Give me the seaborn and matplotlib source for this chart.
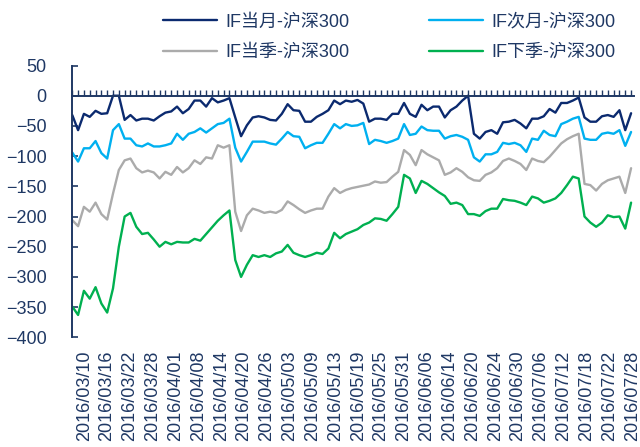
import matplotlib
matplotlib.use("Agg")
import matplotlib.pyplot as plt
import numpy as np
import pandas as pd
import seaborn as sns

dates = [
    "2016/03/10", "2016/03/11", "2016/03/14", "2016/03/15", "2016/03/16", "2016/03/17", "2016/03/18",
    "2016/03/21", "2016/03/22", "2016/03/23", "2016/03/24", "2016/03/25", "2016/03/28", "2016/03/29",
    "2016/03/30", "2016/03/31", "2016/04/01", "2016/04/05", "2016/04/06", "2016/04/07", "2016/04/08",
    "2016/04/11", "2016/04/12", "2016/04/13", "2016/04/14", "2016/04/15", "2016/04/18", "2016/04/19",
    "2016/04/20", "2016/04/21", "2016/04/22", "2016/04/25", "2016/04/26", "2016/04/27", "2016/04/28",
    "2016/04/29", "2016/05/03", "2016/05/04", "2016/05/05", "2016/05/06", "2016/05/09", "2016/05/10",
    "2016/05/11", "2016/05/12", "2016/05/13", "2016/05/16", "2016/05/17", "2016/05/18", "2016/05/19",
    "2016/05/20", "2016/05/23", "2016/05/24", "2016/05/25", "2016/05/26", "2016/05/27", "2016/05/30",
    "2016/05/31", "2016/06/01", "2016/06/02", "2016/06/03", "2016/06/06", "2016/06/07", "2016/06/08",
    "2016/06/13", "2016/06/14", "2016/06/15", "2016/06/16", "2016/06/17", "2016/06/20", "2016/06/21",
    "2016/06/22", "2016/06/23", "2016/06/24", "2016/06/27", "2016/06/28", "2016/06/29", "2016/06/30",
    "2016/07/01", "2016/07/04", "2016/07/05", "2016/07/06", "2016/07/07", "2016/07/08", "2016/07/11",
    "2016/07/12", "2016/07/13", "2016/07/14", "2016/07/15", "2016/07/18", "2016/07/19", "2016/07/20",
    "2016/07/21", "2016/07/22", "2016/07/25", "2016/07/26", "2016/07/27", "2016/07/28",
]

if_month = [
    -32, -57, -30, -35, -25, -30, -29, 0, 0, -40, -32, -41, -38, -38, -41, -34, -28,
    -26, -18, -29, -22, -8, -8, -18, -4, -11, -8, -4, -36, -67, -49, -36, -34, -36,
    -40, -41, -30, -14, -24, -25, -43, -43, -35, -30, -24, -8, -14, -8, -10, -7,
    -13, -43, -38, -38, -40, -30, -30, -12, -30, -35, -15, -24, -18, -18, -36, -24,
    -18, -8, 0, -63, -71, -60, -57, -63, -44, -43, -40, -46, -54, -38, -38, -34, -22,
    -28, -12, -12, -8, -3, -36, -43, -43, -34, -32, -35, -24, -57, -29,
]
if_next = [
    -94, -109, -87, -87, -75, -95, -104, -57, -47, -71, -71, -82, -84, -79, -84, -84, -82,
    -79, -63, -73, -63, -60, -54, -61, -54, -47, -45, -38, -86, -109, -93, -76, -76, -76,
    -79, -81, -71, -60, -67, -68, -87, -82, -78, -78, -63, -47, -54, -47, -50, -49,
    -45, -80, -73, -75, -78, -75, -71, -47, -65, -63, -51, -57, -58, -58, -71, -67,
    -65, -68, -73, -102, -109, -97, -97, -93, -78, -80, -78, -82, -93, -71, -73, -58, -65,
    -67, -47, -43, -38, -35, -71, -73, -73, -63, -61, -63, -57, -83, -60,
]
if_quarter = [
    -206, -216, -184, -192, -177, -196, -205, -162, -123, -107, -104, -120, -127, -124, -127, -137, -126,
    -131, -118, -127, -120, -107, -113, -102, -104, -82, -86, -82, -192, -224, -198, -187, -190, -194,
    -192, -194, -189, -175, -181, -188, -194, -190, -187, -187, -167, -153, -161, -156, -153, -151,
    -149, -147, -142, -144, -143, -134, -126, -90, -98, -115, -90, -97, -102, -107, -131, -127,
    -120, -126, -135, -140, -141, -131, -127, -120, -108, -104, -108, -113, -123, -104, -108, -110, -101,
    -90, -79, -72, -67, -63, -146, -148, -157, -146, -140, -137, -134, -161, -120,
]
if_next_quarter = [
    -349, -363, -323, -336, -317, -344, -359, -319, -250, -200, -194, -217, -229, -227, -238, -250, -242,
    -246, -242, -243, -243, -237, -240, -229, -218, -207, -198, -190, -272, -300, -280, -264, -267, -264,
    -267, -261, -258, -247, -260, -264, -267, -264, -260, -262, -253, -227, -236, -229, -225, -221,
    -214, -210, -203, -204, -207, -196, -184, -131, -137, -161, -141, -146, -153, -160, -166, -179,
    -177, -181, -196, -196, -199, -191, -187, -187, -171, -173, -174, -177, -181, -167, -170, -177, -174,
    -170, -161, -148, -134, -137, -200, -210, -217, -210, -198, -201, -200, -220, -177,
]

series_names = ["IF当月-沪深300", "IF次月-沪深300", "IF当季-沪深300", "IF下季-沪深300"]
series_values = [if_month, if_next, if_quarter, if_next_quarter]
colors = ["#0B2A6F", "#00B0F0", "#ABABAB", "#00B050"]
navy = "#1F3864"

frames = []
for name, vals in zip(series_names, series_values):
    frames.append(pd.DataFrame({"idx": np.arange(len(dates)), "value": vals, "series": name}))
df = pd.concat(frames, ignore_index=True)

sns.set_theme(style="white")
plt.rcParams["font.family"] = ["Liberation Sans", "Noto Sans CJK SC", "DejaVu Sans"]

fig = plt.figure(figsize=(6.4, 4.47), dpi=100)
ax = fig.add_axes([0.112, 0.2454, 0.8786, 0.608])

sns.lineplot(data=df, x="idx", y="value", hue="series", hue_order=series_names,
             palette=colors, linewidth=1.7, ax=ax)

handles, labels = ax.get_legend_handles_labels()
ax.get_legend().remove()

ax.set_xlim(-0.1, 96.5)
ax.set_ylim(-400, 50)
ax.set_yticks(np.arange(-400, 51, 50))
ax.set_xlabel("")
ax.set_ylabel("")

for s in ["top", "right"]:
    ax.spines[s].set_visible(False)
ax.spines["left"].set_color(navy)
ax.spines["left"].set_linewidth(1.4)
ax.spines["bottom"].set_position(("data", 0))
ax.spines["bottom"].set_color(navy)
ax.spines["bottom"].set_linewidth(1.4)

ax.tick_params(axis="y", direction="in", length=4, width=1.2, color=navy,
               labelcolor=navy, labelsize=13, pad=18, left=True)
ax.set_xticks(np.arange(len(dates)))
ax.tick_params(axis="x", direction="in", length=4, width=1.0, color=navy,
               labelbottom=False, bottom=True)

# category labels sit slightly right of the data points, as in the reference
sec = ax.secondary_xaxis("bottom")
label_idx = np.arange(0, len(dates), 4)
label_pos = np.linspace(2.05, 96.2, len(label_idx))
sec.set_xticks(label_pos, labels=[dates[i] for i in label_idx], rotation=90)
sec.tick_params(length=0, pad=9.5, labelsize=13, labelcolor=navy)
sec.spines["bottom"].set_visible(False)

order = [0, 2, 1, 3]
fig.legend([handles[i] for i in order], [labels[i] for i in order],
           loc="upper left", bbox_to_anchor=(0.241, 0.99),
           ncol=2, frameon=False, fontsize=13, handlelength=3.0, handletextpad=0.45,
           columnspacing=4.4, labelspacing=0.75, borderpad=0, labelcolor=navy)

fig.savefig("out.png", dpi=100)
